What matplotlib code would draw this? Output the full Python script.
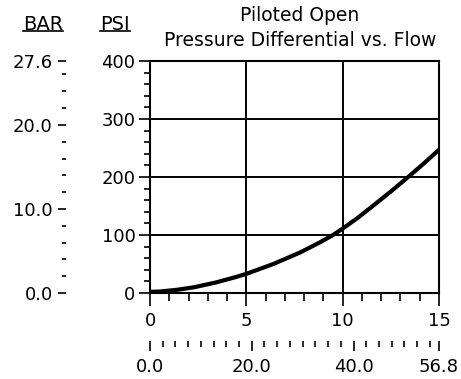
import matplotlib
matplotlib.use("Agg")
import matplotlib.pyplot as plt
from matplotlib.lines import Line2D
from matplotlib.ticker import MultipleLocator, FixedLocator, FormatStrFormatter

plt.rcParams['font.family'] = ['DejaVu Sans']

# flow (gpm) vs pressure differential (psi)
flow_gpm = [0.0, 0.5, 1.4, 2.3, 3.4, 4.4, 5.0, 6.4, 7.8, 8.8, 9.5, 10.0,
            10.8, 11.6, 12.5, 13.4, 14.2, 15.0]
press_psi = [2.0, 2.5, 5.5, 10.0, 18.0, 27.0, 33.0, 50.0, 70.0, 87.0, 100.0, 111.0,
             130.0, 151.0, 175.0, 200.0, 223.0, 247.0]

psi_ticks = [0, 100, 200, 300, 400]
gpm_ticks = [0, 5, 10, 15]
bar_ticks = [0.0, 10.0, 20.0, 27.6]
lpm_ticks = [0.0, 20.0, 40.0, 56.8]

title = "Piloted Open\nPressure Differential vs. Flow"

W, H = 461, 379
fig = plt.figure(figsize=(W / 100, H / 100), dpi=100)
ax = fig.add_axes([150 / W, 1 - 293 / H, 289 / W, 232 / H])

ax.plot(flow_gpm, press_psi, color='black', lw=3, solid_capstyle='butt')
ax.set_xlim(0, 15)
ax.set_ylim(0, 400)

for s in ax.spines.values():
    s.set_linewidth(1.5)
ax.grid(True, color='black', lw=1.4)

ax.xaxis.set_major_locator(FixedLocator(gpm_ticks))
ax.xaxis.set_minor_locator(MultipleLocator(1))
ax.yaxis.set_major_locator(FixedLocator(psi_ticks))
ax.yaxis.set_minor_locator(MultipleLocator(20))
ax.tick_params(which='both', direction='out', width=1.2, labelsize=13)
ax.tick_params(axis='x', which='major', length=9, pad=5)
ax.tick_params(axis='x', which='minor', length=6)
ax.tick_params(axis='y', which='major', length=8, pad=2.5)
ax.tick_params(axis='y', which='minor', length=4.5)

# BAR scale on the far left
bar = ax.secondary_yaxis((66 - 150) / 289,
                         functions=(lambda p: p * 27.6 / 400, lambda b: b * 400 / 27.6))
bar.spines['left'].set_visible(False)
bar.yaxis.set_major_locator(FixedLocator(bar_ticks))
bar.yaxis.set_minor_locator(MultipleLocator(2))
bar.yaxis.set_major_formatter(FormatStrFormatter('%.1f'))
bar.tick_params(which='both', direction='out', width=1.2, labelsize=13)
bar.tick_params(which='major', length=6, pad=3.5)
bar.tick_params(which='minor', length=3)

# LPM scale underneath
lpm = ax.secondary_xaxis(-(341 - 293) / 232,
                         functions=(lambda g: g * 56.8 / 15, lambda l: l * 15 / 56.8))
lpm.spines['bottom'].set_visible(False)
lpm.xaxis.set_major_locator(FixedLocator(lpm_ticks))
lpm.xaxis.set_minor_locator(MultipleLocator(2.5))
lpm.xaxis.set_major_formatter(FormatStrFormatter('%.1f'))
lpm.tick_params(which='both', direction='out', width=1.2, labelsize=13)
lpm.tick_params(which='major', length=7.5, pad=4.5)
lpm.tick_params(which='minor', length=4.5)

heads = [fig.text(43 / W, 1 - 24 / H, 'BAR', ha='center', va='center', fontsize=14),
         fig.text(115 / W, 1 - 24 / H, 'PSI', ha='center', va='center', fontsize=14)]
fig.text(300 / W, 1 - 28 / H, title, ha='center', va='center', fontsize=13.5, linespacing=1.35)

# underline the unit headers
fig.canvas.draw()
r = fig.canvas.get_renderer()
for t in heads:
    bb = t.get_window_extent(r).transformed(fig.transFigure.inverted())
    fig.add_artist(Line2D([bb.x0, bb.x1], [bb.y0 + 0.006, bb.y0 + 0.006],
                          transform=fig.transFigure, color='black', lw=1.2))

fig.savefig("out.png", dpi=100)
